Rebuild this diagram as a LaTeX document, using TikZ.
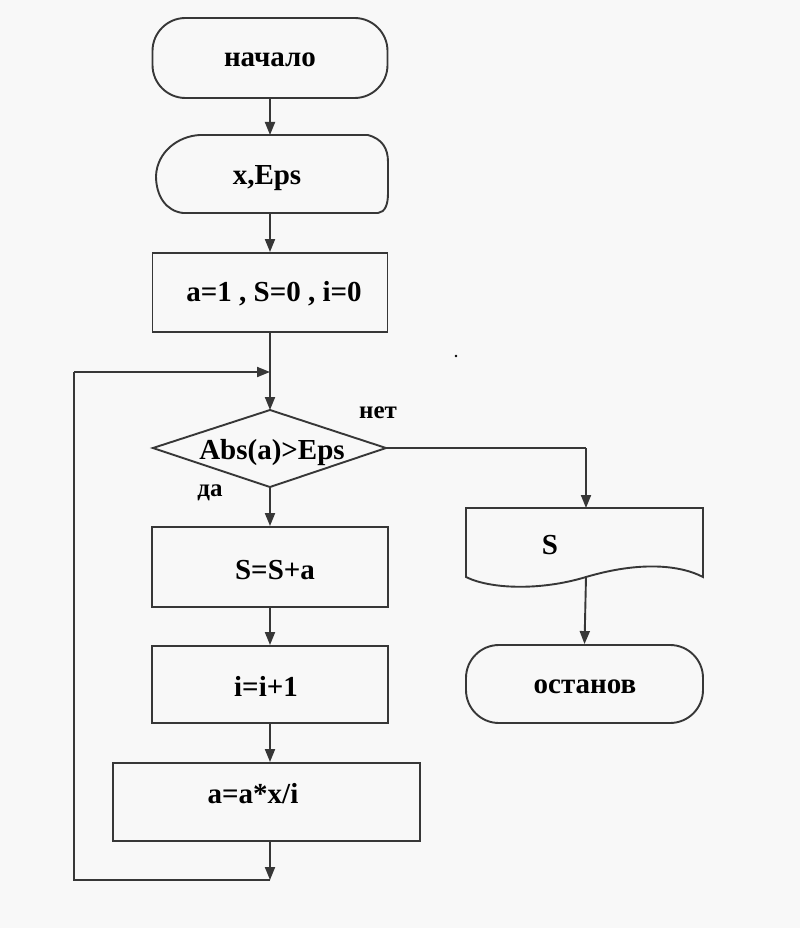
\documentclass[tikz,border=0pt]{standalone}
\usepackage{fontspec}
\setmainfont{Liberation Serif}
\usetikzlibrary{arrows.meta}
\definecolor{bgc}{RGB}{248,248,248}
\definecolor{lnc}{RGB}{55,55,55}
\begin{document}
\begin{tikzpicture}[x=1pt,y=-1pt,
  lnk/.style={draw=lnc,line width=1.9pt},
  arr/.style={lnk,-{Triangle[length=13pt,width=10pt]}},
  boxshape/.style={draw=lnc,line width=1.9pt,rectangle,inner sep=0pt},
  term/.style={boxshape,rounded corners=33pt},
  txt/.style={anchor=base,inner sep=0pt,font=\bfseries\fontsize{29}{32}\selectfont},
  lbl/.style={anchor=base,inner sep=0pt,font=\bfseries\fontsize{25}{28}\selectfont}]
\fill[bgc] (0,0) rectangle (800,928);
\useasboundingbox (0,0) rectangle (800,928);

% shapes
\node[term,minimum width=235pt,minimum height=80pt] (start) at (270,58) {};
\draw[lnk] (200,135) -- (368,135) .. controls (382,139) and (388,148) .. (388,162)
  -- (388,193) .. controls (388,205) and (385,212) .. (378,213) -- (183,213)
  .. controls (166,211) and (156,196) .. (156,176) .. controls (157,152) and (178,136) .. (200,135) -- cycle;
\coordinate (inpN) at (270,135);
\coordinate (inpS) at (270,213);
\node[boxshape,minimum width=235pt,minimum height=79pt] (init) at (270,292.5) {};
\coordinate (dT) at (270,410);
\coordinate (dB) at (270,487);
\coordinate (dL) at (153,448);
\coordinate (dR) at (386,448);
\draw[lnk] (dT) -- (dR) -- (dB) -- (dL) -- cycle;
\node[boxshape,minimum width=236pt,minimum height=80pt] (sum) at (270,567) {};
\node[boxshape,minimum width=236pt,minimum height=77pt] (inc) at (270,684.5) {};
\node[boxshape,minimum width=307pt,minimum height=78pt] (upd) at (266.5,802) {};
\draw[lnk] (466,508) -- (703,508) -- (703,577)
  .. controls (680,565) and (640,561) .. (586,577)
  .. controls (540,591) and (490,589) .. (466,577) -- cycle;
\coordinate (docN) at (586,508);
\coordinate (docS) at (586,577);
\node[term,minimum width=237pt,minimum height=78pt] (stop) at (584.5,684) {};

% texts
\node[txt] (t1) at (270,67) {начало};
\node[txt] (t2) at (267,185) {x,Eps};
\node[txt] (t3) at (274,301) {a=1 , S=0 , i=0};
\node[txt] (t4) at (272,459) {Abs(a)>Eps};
\node[txt] (t5) at (275,579) {S=S+a};
\node[txt] (t6) at (266,696) {i=i+1};
\node[txt] (t7) at (253,803) {a=a*x/i};
\node[txt] (t8) at (550,554) {S};
\node[txt] (t9) at (585,693) {останов};
\node[lbl] (no) at (378,418) {нет};
\node[lbl] (yes) at (210,496) {да};

% connectors
\coordinate (loopIn) at (270,372);
\coordinate (loopOut) at (270,880);
\coordinate (cBL) at (74,880);
\coordinate (cTL) at (74,372);
\coordinate (cR) at (586,448);
\draw[arr] (start.south) -- (inpN);
\draw[arr] (inpS) -- (init.north);
\draw[arr] (init.south) -- (dT);
\draw[arr] (dB) -- (sum.north);
\draw[arr] (sum.south) -- (inc.north);
\draw[arr] (inc.south) -- (inc.south |- upd.north);
\draw[arr] (inc.south |- upd.south) -- (loopOut);
\draw[lnk] (loopOut) -- (cBL) -- (cTL);
\draw[arr] (cTL) -- (loopIn);
\draw[lnk] (dR) -- (cR);
\draw[arr] (cR) -- (docN);
\draw[arr] (docS) -- (stop.north);
\fill[black] (456,356) circle (1.3pt);
\end{tikzpicture}
\end{document}
